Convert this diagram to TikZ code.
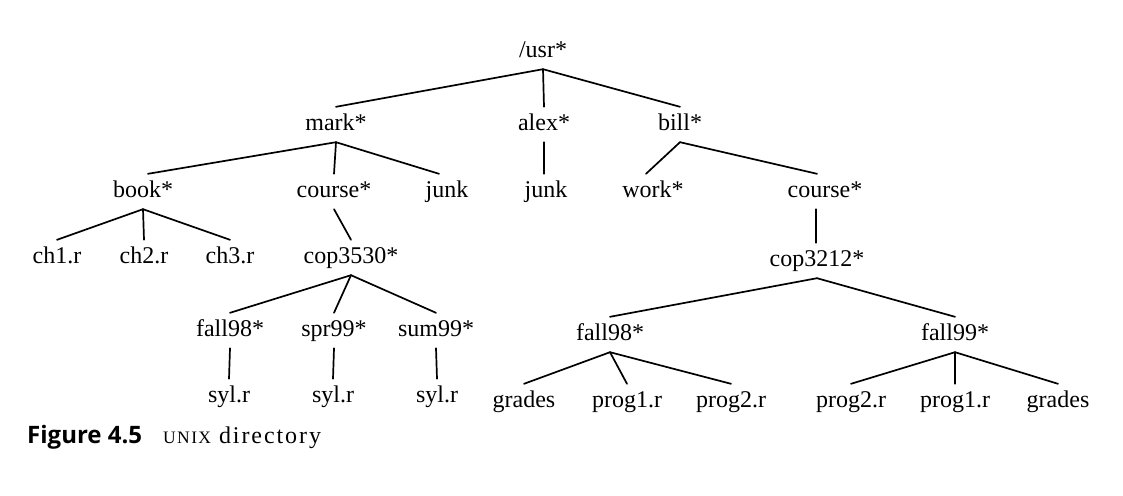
\documentclass[tikz,border=0pt]{standalone}
\usepackage{fontspec}
\setmainfont{Liberation Serif}
\newfontfamily\capsans{Open Sans}
\newfontfamily\capserif{Liberation Serif}[LetterSpace=8]
\begin{document}
\begin{tikzpicture}[x=1pt,y=-1pt,
  tn/.style={anchor=base, inner xsep=0pt, inner ysep=6pt, text height=17pt, text depth=6pt,
             font=\fontsize{24}{24}\selectfont},
  edge/.style={line width=1.7pt, line cap=round}]
\useasboundingbox[fill=white] (0,0) rectangle (1123,495);
% row 0
\node[tn] (usr) at (543,57) {/usr*};
% row 1
\node[tn] (mark) at (336,130) {mark*};
\node[tn] (alex) at (544,130) {alex*};
\node[tn] (bill) at (680,130) {bill*};
% row 2
\node[tn] (book) at (143,197) {book*};
\node[tn] (course) at (334,197) {course*};
\node[tn] (junk) at (447,197) {junk};
\node[tn] (ajunk) at (546,197) {junk};
\node[tn] (work) at (653,197) {work*};
\node[tn] (bcourse) at (825,197) {course*};
% row 3
\node[tn] (ch1) at (57,263) {ch1.r};
\node[tn] (ch2) at (144,263) {ch2.r};
\node[tn] (ch3) at (230,263) {ch3.r};
\node[tn] (cop3530) at (351,263) {cop3530*};
\node[tn] (cop3212) at (817,266) {cop3212*};
% row 4
\node[tn] (lfall98) at (230,336) {fall98*};
\node[tn] (spr99) at (334,336) {spr99*};
\node[tn] (sum99) at (436,336) {sum99*};
\node[tn] (rfall98) at (610,340) {fall98*};
\node[tn] (fall99) at (955,340) {fall99*};
% row 5
\node[tn] (syl1) at (229,402) {syl.r};
\node[tn] (syl2) at (333,402) {syl.r};
\node[tn] (syl3) at (437,402) {syl.r};
\node[tn] (grades1) at (524,407) {grades};
\node[tn] (prog11) at (627,407) {prog1.r};
\node[tn] (prog21) at (731,407) {prog2.r};
\node[tn] (prog22) at (851,407) {prog2.r};
\node[tn] (prog12) at (955,407) {prog1.r};
\node[tn] (grades2) at (1058,407) {grades};
% caption
\node[anchor=base west, inner sep=0pt] (capnum) at (27,443)
  {\capsans\bfseries\fontsize{24}{24}\selectfont Figure 4.5};
\node[anchor=base west, inner sep=0pt] (captext) at (163,443)
  {\capserif\fontsize{24}{24}\selectfont{\fontsize{17.5}{17.5}\selectfont UNIX} directory};
% connectors
\draw[edge] (usr.south) -- (mark.north);
\draw[edge] (usr.south) -- (alex.north);
\draw[edge] (usr.south) -- (bill.north);
\draw[edge] (mark.south) -- ([xshift=5pt]book.north);
\draw[edge] (mark.south) -- (course.north);
\draw[edge] (mark.south) -- ([xshift=-8pt]junk.north);
\draw[edge] (alex.south) -- (ajunk.north -| alex.south);
\draw[edge] (bill.south) -- ([xshift=-7pt]work.north);
\draw[edge] (bill.south) -- ([xshift=-8pt]bcourse.north);
\draw[edge] (book.south) -- (ch1.north);
\draw[edge] (book.south) -- (ch2.north);
\draw[edge] (book.south) -- (ch3.north);
\draw[edge] (course.south) -- (cop3530.north);
\draw[edge] ([xshift=-9pt]bcourse.south) -- ([xshift=-9pt]bcourse.south |- cop3212.north);
\draw[edge] (cop3530.south) -- (lfall98.north);
\draw[edge] (cop3530.south) -- (spr99.north);
\draw[edge] (cop3530.south) -- (sum99.north);
\draw[edge] (cop3212.south) -- (rfall98.north);
\draw[edge] (cop3212.south) -- (fall99.north);
\draw[edge] (lfall98.south) -- (syl1.north);
\draw[edge] (spr99.south) -- (syl2.north);
\draw[edge] (sum99.south) -- (syl3.north);
\draw[edge] (rfall98.south) -- (grades1.north);
\draw[edge] (rfall98.south) -- (prog11.north);
\draw[edge] (rfall98.south) -- (prog21.north);
\draw[edge] (fall99.south) -- (prog22.north);
\draw[edge] (fall99.south) -- (prog12.north);
\draw[edge] (fall99.south) -- (grades2.north);
\end{tikzpicture}
\end{document}
